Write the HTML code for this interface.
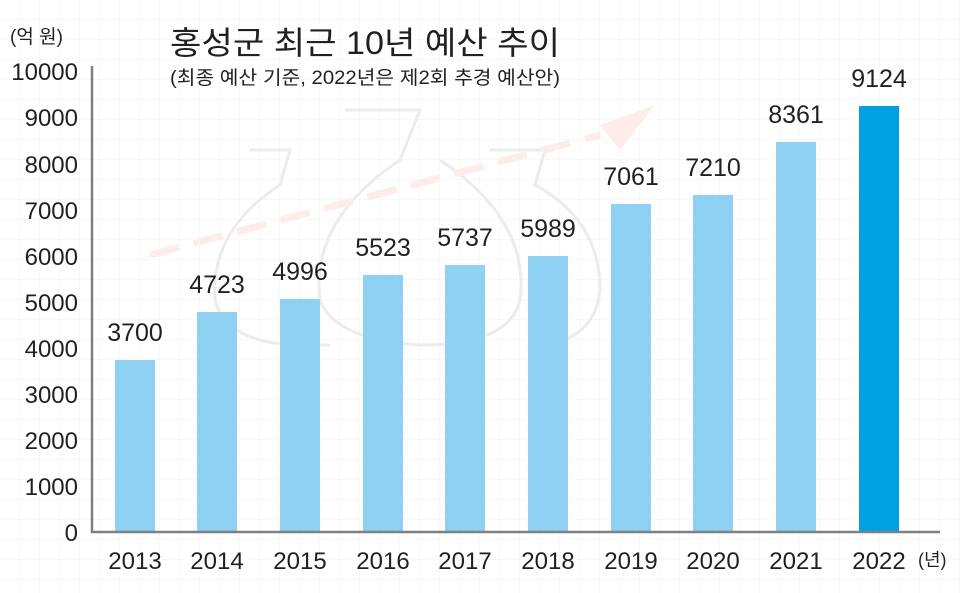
<!DOCTYPE html>
<html><head><meta charset="utf-8"><style>
html,body{margin:0;padding:0;background:#fff}
svg{display:block}
text{font-family:"Liberation Sans","Noto Sans CJK KR",sans-serif;fill:#231f20}
</style></head><body>
<svg width="960" height="593" viewBox="0 0 960 593" xmlns="http://www.w3.org/2000/svg">
<defs>
<pattern id="g" width="20" height="20" patternUnits="userSpaceOnUse">
<path d="M20 0V20M0 20H20" stroke="#f2f2f2" stroke-width="1" fill="none"/>
</pattern>
</defs>
<rect width="960" height="593" fill="#fff"/>
<rect width="960" height="593" fill="url(#g)"/>
<g fill="none" stroke="#ececec" stroke-width="3">
<path d="M250 150 L290 150 L280 185 Q210 230 215 300 Q225 340 290 345 L330 345"/>
<path d="M345 110 L420 110 L400 160 Q310 220 320 300 Q335 340 420 345 Q510 345 520 300 Q530 220 440 160"/>
<path d="M490 150 L545 150 L535 185 Q600 220 600 290 Q595 340 540 345"/>
</g>
<path d="M150 255 L600 135" stroke="#fcecea" stroke-width="7" stroke-dasharray="30 15" fill="none"/>
<path d="M600 125 L655 105 L620 150Z" fill="#fcecea"/>
<text x="10" y="43" font-size="19">(억 원)</text>
<text x="170" y="54" font-size="32" textLength="390" lengthAdjust="spacingAndGlyphs">홍성군 최근 10년 예산 추이</text>
<text x="170" y="84" font-size="19" textLength="390" lengthAdjust="spacingAndGlyphs">(최종 예산 기준, 2022년은 제2회 추경 예산안)</text>
<g font-size="24" text-anchor="end">
<text x="78" y="80">10000</text>
<text x="78" y="126">9000</text>
<text x="78" y="173">8000</text>
<text x="78" y="219">7000</text>
<text x="78" y="265">6000</text>
<text x="78" y="311">5000</text>
<text x="78" y="357">4000</text>
<text x="78" y="403">3000</text>
<text x="78" y="449">2000</text>
<text x="78" y="495">1000</text>
<text x="78" y="541">0</text>
</g>
<g fill="#8fd1f3">
<rect x="115" y="360" width="40" height="172"/>
<rect x="197" y="312" width="40" height="220"/>
<rect x="280" y="299" width="40" height="233"/>
<rect x="363" y="275" width="40" height="257"/>
<rect x="445" y="265" width="40" height="267"/>
<rect x="528" y="256" width="40" height="276"/>
<rect x="611" y="204" width="40" height="328"/>
<rect x="693" y="195" width="40" height="337"/>
<rect x="776" y="142" width="40" height="390"/>
</g>
<rect x="859" y="106" width="40" height="426" fill="#00a0e3"/>
<path d="M92 66 V532 H940" stroke="#808080" stroke-width="2.5" fill="none"/>
<g font-size="25" text-anchor="middle">
<text x="135" y="341">3700</text>
<text x="217" y="293">4723</text>
<text x="300" y="280">4996</text>
<text x="383" y="256">5523</text>
<text x="465" y="246">5737</text>
<text x="548" y="237">5989</text>
<text x="631" y="185">7061</text>
<text x="713" y="176">7210</text>
<text x="796" y="123">8361</text>
<text x="879" y="87">9124</text>
</g>
<g font-size="24" text-anchor="middle">
<text x="135" y="569">2013</text>
<text x="217" y="569">2014</text>
<text x="300" y="569">2015</text>
<text x="383" y="569">2016</text>
<text x="465" y="569">2017</text>
<text x="548" y="569">2018</text>
<text x="631" y="569">2019</text>
<text x="713" y="569">2020</text>
<text x="796" y="569">2021</text>
<text x="879" y="569">2022</text>
</g>
<text x="918" y="566" font-size="18">(년)</text>
</svg>
</body></html>
